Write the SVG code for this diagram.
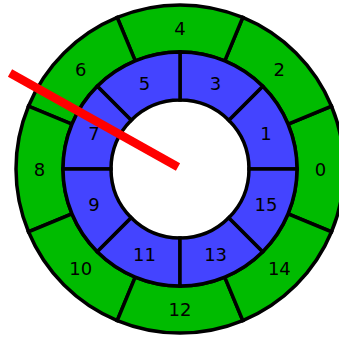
<svg xmlns="http://www.w3.org/2000/svg" width="339" height="338" viewBox="0 0 339 338">
<style>
.g{fill:#00bb00;stroke:#000;stroke-width:3.5;stroke-linejoin:miter}
.b{fill:#4444ff;stroke:#000;stroke-width:3.5;stroke-linejoin:miter}
text{font-family:"DejaVu Sans",sans-serif;font-size:18px;fill:#000;text-anchor:middle}
</style>
<rect width="339" height="338" fill="#fff"/>
<g id="g0"><path class="g" d="M331.52,231.76 A164,164 0 0 0 331.52,106.24 L288.09,124.23 A117,117 0 0 1 288.09,213.77 Z"/><text x="320.5" y="175.5">0</text></g>
<g id="g2"><path class="g" d="M331.52,106.24 A164,164 0 0 0 242.76,17.48 L224.77,60.91 A117,117 0 0 1 288.09,124.23 Z"/><text x="279.35" y="76.15">2</text></g>
<g id="g4"><path class="g" d="M242.76,17.48 A164,164 0 0 0 117.24,17.48 L135.23,60.91 A117,117 0 0 1 224.77,60.91 Z"/><text x="180" y="35">4</text></g>
<g id="g6"><path class="g" d="M117.24,17.48 A164,164 0 0 0 28.48,106.24 L71.91,124.23 A117,117 0 0 1 135.23,60.91 Z"/><text x="80.65" y="76.15">6</text></g>
<g id="g8"><path class="g" d="M28.48,106.24 A164,164 0 0 0 28.48,231.76 L71.91,213.77 A117,117 0 0 1 71.91,124.23 Z"/><text x="39.5" y="175.5">8</text></g>
<g id="g10"><path class="g" d="M28.48,231.76 A164,164 0 0 0 117.24,320.52 L135.23,277.09 A117,117 0 0 1 71.91,213.77 Z"/><text x="80.65" y="274.85">10</text></g>
<g id="g12"><path class="g" d="M117.24,320.52 A164,164 0 0 0 242.76,320.52 L224.77,277.09 A117,117 0 0 1 135.23,277.09 Z"/><text x="180" y="316">12</text></g>
<g id="g14"><path class="g" d="M242.76,320.52 A164,164 0 0 0 331.52,231.76 L288.09,213.77 A117,117 0 0 1 224.77,277.09 Z"/><text x="279.35" y="274.85">14</text></g>
<g id="b1"><path class="b" d="M297,169 A117,117 0 0 0 262.73,86.27 L228.79,120.21 A69,69 0 0 1 249,169 Z"/><text x="265.92" y="139.91">1</text></g>
<g id="b3"><path class="b" d="M262.73,86.27 A117,117 0 0 0 180,52 L180,100 A69,69 0 0 1 228.79,120.21 Z"/><text x="215.59" y="89.58">3</text></g>
<g id="b5"><path class="b" d="M180,52 A117,117 0 0 0 97.27,86.27 L131.21,120.21 A69,69 0 0 1 180,100 Z"/><text x="144.41" y="89.58">5</text></g>
<g id="b7"><path class="b" d="M97.27,86.27 A117,117 0 0 0 63,169 L111,169 A69,69 0 0 1 131.21,120.21 Z"/><text x="94.08" y="139.91">7</text></g>
<g id="b9"><path class="b" d="M63,169 A117,117 0 0 0 97.27,251.73 L131.21,217.79 A69,69 0 0 1 111,169 Z"/><text x="94.08" y="211.09">9</text></g>
<g id="b11"><path class="b" d="M97.27,251.73 A117,117 0 0 0 180,286 L180,238 A69,69 0 0 1 131.21,217.79 Z"/><text x="144.41" y="261.42">11</text></g>
<g id="b13"><path class="b" d="M180,286 A117,117 0 0 0 262.73,251.73 L228.79,217.79 A69,69 0 0 1 180,238 Z"/><text x="215.59" y="261.42">13</text></g>
<g id="b15"><path class="b" d="M262.73,251.73 A117,117 0 0 0 297,169 L249,169 A69,69 0 0 1 228.79,217.79 Z"/><text x="265.92" y="211.09">15</text></g>
<g id="connectors"><line x1="10" y1="73" x2="178" y2="167" stroke="#ff0000" stroke-width="8.5"/></g>
</svg>
